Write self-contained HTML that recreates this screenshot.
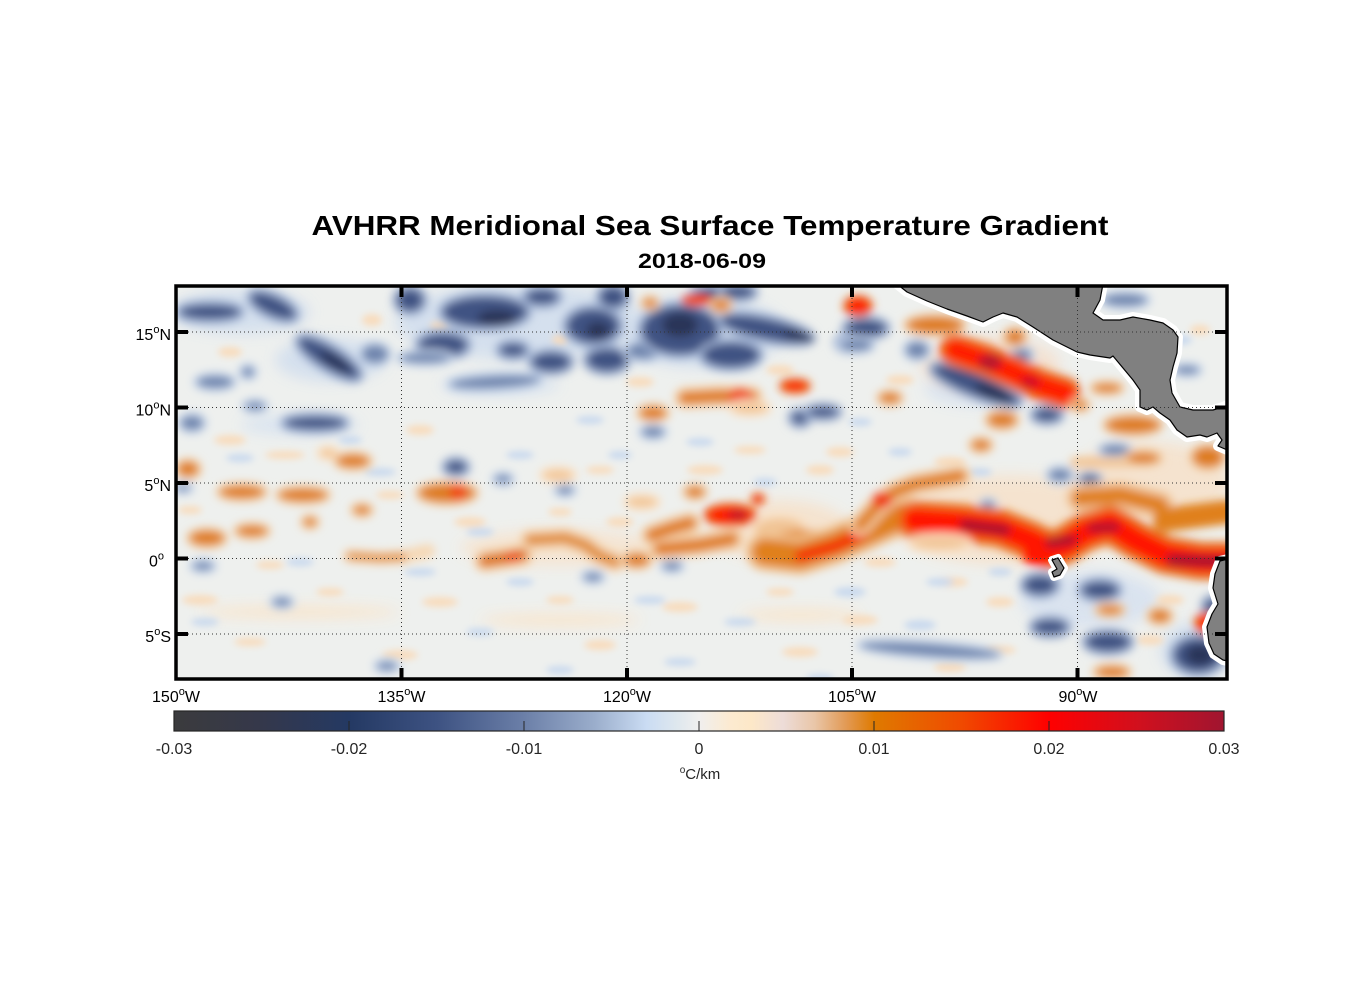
<!DOCTYPE html>
<html>
<head>
<meta charset="utf-8">
<style>
html,body{margin:0;padding:0;background:#fff;}
svg{display:block;}
.mb{fill:#7085ad;stroke:#c3d3ea;stroke-width:8;paint-order:stroke}
.db{fill:#3f5383;stroke:#9fb1d2;stroke-width:10;paint-order:stroke}
.xb{fill:#2a3658}
.lo{fill:#f1c596;stroke:#fae3c8;stroke-width:8;paint-order:stroke}
.mo{fill:#de7c1c;stroke:#f2c99c;stroke-width:8;paint-order:stroke}
.ro{fill:#f04a08}
.rd{fill:#ff1600;stroke:#e8681a;stroke-width:8;paint-order:stroke}
.p{fill:none;stroke-linecap:round;stroke-linejoin:round}
text{font-family:"Liberation Sans",Arial,sans-serif;}
</style>
</head>
<body>
<svg width="1356" height="1000" viewBox="0 0 1356 1000" xmlns="http://www.w3.org/2000/svg">
<defs>
<clipPath id="mc"><rect x="176" y="286" width="1051" height="393"/></clipPath>
<filter id="f1" x="-20%" y="-20%" width="140%" height="140%"><feGaussianBlur stdDeviation="4.5"/></filter>
<filter id="f2" x="-20%" y="-20%" width="140%" height="140%"><feGaussianBlur stdDeviation="7"/></filter>
<filter id="f3" x="-20%" y="-20%" width="140%" height="140%"><feGaussianBlur stdDeviation="3.5"/></filter>
<linearGradient id="cb" x1="0" y1="0" x2="1" y2="0">
<stop offset="0" stop-color="#3b3b3d"/>
<stop offset="0.08" stop-color="#35384a"/>
<stop offset="0.1667" stop-color="#243963"/>
<stop offset="0.25" stop-color="#3d5282"/>
<stop offset="0.333" stop-color="#6b7fa8"/>
<stop offset="0.40" stop-color="#9aadcb"/>
<stop offset="0.45" stop-color="#cadcf3"/>
<stop offset="0.48" stop-color="#dfe8ee"/>
<stop offset="0.5" stop-color="#f0efee"/>
<stop offset="0.53" stop-color="#fcead0"/>
<stop offset="0.55" stop-color="#fde8c8"/>
<stop offset="0.58" stop-color="#eddcd8"/>
<stop offset="0.61" stop-color="#e9c6a8"/>
<stop offset="0.64" stop-color="#e29a55"/>
<stop offset="0.667" stop-color="#df7a00"/>
<stop offset="0.75" stop-color="#f04a00"/>
<stop offset="0.833" stop-color="#ff0000"/>
<stop offset="0.92" stop-color="#d0101e"/>
<stop offset="1" stop-color="#a01530"/>
</linearGradient>
</defs>

<text x="710" y="235" font-size="28" font-weight="bold" text-anchor="middle" textLength="797" lengthAdjust="spacingAndGlyphs" fill="#000">AVHRR Meridional Sea Surface Temperature Gradient</text>
<text x="702" y="268" font-size="21" font-weight="bold" text-anchor="middle" textLength="128" lengthAdjust="spacingAndGlyphs" fill="#000">2018-06-09</text>

<g clip-path="url(#mc)">
<rect x="170" y="280" width="1065" height="405" fill="#eef0ee"/>

<g filter="url(#f2)" opacity="0.9">
<ellipse cx="240" cy="312" rx="70" ry="22" fill="#d3dfee"/>
<ellipse cx="330" cy="360" rx="55" ry="22" fill="#d3dfee"/>
<ellipse cx="520" cy="322" rx="125" ry="38" fill="#d3dfee"/>
<ellipse cx="700" cy="332" rx="85" ry="36" fill="#d3dfee"/>
<ellipse cx="300" cy="425" rx="60" ry="10" fill="#d8e3f0"/>
<ellipse cx="500" cy="385" rx="60" ry="10" fill="#d8e3f0"/>
<ellipse cx="980" cy="388" rx="55" ry="18" fill="#d6e1f0"/>
<ellipse cx="1090" cy="600" rx="70" ry="28" fill="#d8e2f0"/>
<ellipse cx="1195" cy="650" rx="35" ry="28" fill="#d3dfee"/>
<ellipse cx="300" cy="612" rx="100" ry="6" fill="#fae4c8"/>
<ellipse cx="560" cy="620" rx="80" ry="6" fill="#fae4c8"/>
<ellipse cx="800" cy="615" rx="60" ry="6" fill="#fae4c8"/>
<ellipse cx="1010" cy="520" rx="120" ry="45" fill="#f6e2cc"/>
<ellipse cx="1150" cy="482" rx="80" ry="40" fill="#f6e2cc"/>
<ellipse cx="990" cy="365" rx="70" ry="28" fill="#f4e0cf"/>
<ellipse cx="560" cy="548" rx="100" ry="18" fill="#f6e4d0"/>
<ellipse cx="780" cy="530" rx="70" ry="30" fill="#f6e2cc"/>
</g>

<g filter="url(#f3)">
<g fill="#f8dcbd">
<ellipse cx="230" cy="440" rx="16" ry="5"/>
<ellipse cx="285" cy="455" rx="20" ry="4"/>
<ellipse cx="420" cy="430" rx="14" ry="5"/>
<ellipse cx="470" cy="522" rx="16" ry="5"/>
<ellipse cx="600" cy="470" rx="14" ry="4"/>
<ellipse cx="705" cy="470" rx="18" ry="5"/>
<ellipse cx="820" cy="470" rx="14" ry="5"/>
<ellipse cx="560" cy="512" rx="12" ry="4"/>
<ellipse cx="620" cy="522" rx="14" ry="5"/>
<ellipse cx="750" cy="450" rx="16" ry="4"/>
<ellipse cx="880" cy="562" rx="16" ry="5"/>
<ellipse cx="950" cy="582" rx="18" ry="5"/>
<ellipse cx="200" cy="600" rx="18" ry="5"/>
<ellipse cx="330" cy="592" rx="14" ry="4"/>
<ellipse cx="440" cy="602" rx="18" ry="5"/>
<ellipse cx="560" cy="600" rx="14" ry="4"/>
<ellipse cx="680" cy="607" rx="18" ry="5"/>
<ellipse cx="780" cy="592" rx="14" ry="4"/>
<ellipse cx="860" cy="620" rx="18" ry="5"/>
<ellipse cx="250" cy="642" rx="16" ry="4"/>
<ellipse cx="400" cy="655" rx="18" ry="5"/>
<ellipse cx="600" cy="645" rx="16" ry="5"/>
<ellipse cx="800" cy="652" rx="18" ry="5"/>
<ellipse cx="950" cy="667" rx="16" ry="5"/>
<ellipse cx="1000" cy="602" rx="14" ry="5"/>
<ellipse cx="230" cy="352" rx="12" ry="5"/>
<ellipse cx="372" cy="320" rx="10" ry="6"/>
<ellipse cx="560" cy="340" rx="8" ry="5"/>
<ellipse cx="440" cy="326" rx="10" ry="5"/>
<ellipse cx="640" cy="382" rx="14" ry="5"/>
<ellipse cx="780" cy="370" rx="14" ry="5"/>
<ellipse cx="900" cy="380" rx="14" ry="5"/>
<ellipse cx="840" cy="452" rx="14" ry="5"/>
<ellipse cx="950" cy="462" rx="16" ry="5"/>
<ellipse cx="1170" cy="600" rx="14" ry="5"/>
<ellipse cx="1150" cy="640" rx="14" ry="5"/>
<ellipse cx="1000" cy="650" rx="16" ry="4"/>
<ellipse cx="190" cy="510" rx="12" ry="4"/>
<ellipse cx="390" cy="495" rx="14" ry="4"/>
<ellipse cx="270" cy="565" rx="14" ry="4"/>
<ellipse cx="1160" cy="400" rx="10" ry="5"/>
<ellipse cx="1200" cy="330" rx="10" ry="5"/>
</g>
<g fill="#c9d9ee">
<ellipse cx="240" cy="458" rx="14" ry="4"/>
<ellipse cx="380" cy="472" rx="16" ry="4"/>
<ellipse cx="520" cy="455" rx="14" ry="4"/>
<ellipse cx="620" cy="455" rx="12" ry="4"/>
<ellipse cx="700" cy="442" rx="14" ry="4"/>
<ellipse cx="765" cy="482" rx="12" ry="4"/>
<ellipse cx="480" cy="532" rx="14" ry="4"/>
<ellipse cx="420" cy="572" rx="16" ry="4"/>
<ellipse cx="520" cy="582" rx="14" ry="4"/>
<ellipse cx="650" cy="600" rx="16" ry="4"/>
<ellipse cx="740" cy="622" rx="16" ry="4"/>
<ellipse cx="850" cy="592" rx="16" ry="5"/>
<ellipse cx="920" cy="625" rx="16" ry="5"/>
<ellipse cx="300" cy="562" rx="14" ry="4"/>
<ellipse cx="205" cy="622" rx="14" ry="4"/>
<ellipse cx="480" cy="632" rx="14" ry="4"/>
<ellipse cx="680" cy="662" rx="16" ry="4"/>
<ellipse cx="560" cy="670" rx="14" ry="4"/>
<ellipse cx="820" cy="678" rx="14" ry="4"/>
<ellipse cx="980" cy="472" rx="12" ry="4"/>
<ellipse cx="900" cy="452" rx="12" ry="4"/>
<ellipse cx="860" cy="422" rx="12" ry="4"/>
<ellipse cx="940" cy="582" rx="14" ry="4"/>
<ellipse cx="1000" cy="572" rx="12" ry="4"/>
<ellipse cx="350" cy="440" rx="12" ry="4"/>
<ellipse cx="590" cy="420" rx="14" ry="4"/>
<ellipse cx="1180" cy="340" rx="12" ry="5"/>
</g>
</g>

<g filter="url(#f1)">
<ellipse class="db" cx="210" cy="312" rx="30" ry="7"/>
<ellipse class="db" cx="273" cy="306" rx="24" ry="9" transform="rotate(25 273 306)"/>
<ellipse class="db" cx="329" cy="358" rx="35" ry="10" transform="rotate(32 329 358)"/>
<ellipse class="xb" cx="335" cy="362" rx="18" ry="5" transform="rotate(32 335 362)"/>
<ellipse class="mb" cx="375" cy="354" rx="13" ry="9"/>
<ellipse class="mb" cx="215" cy="382" rx="18" ry="6"/>
<ellipse class="mb" cx="248" cy="372" rx="6" ry="5"/>
<ellipse class="mb" cx="192" cy="423" rx="11" ry="7"/>
<ellipse class="mb" cx="255" cy="406" rx="10" ry="4"/>
<ellipse class="db" cx="315" cy="423" rx="30" ry="6"/>

<ellipse class="db" cx="410" cy="300" rx="13" ry="11"/>
<ellipse class="db" cx="485" cy="312" rx="42" ry="15"/>
<ellipse class="xb" cx="497" cy="318" rx="20" ry="8"/>
<ellipse class="db" cx="542" cy="297" rx="16" ry="7"/>
<ellipse class="db" cx="593" cy="326" rx="26" ry="17"/>
<ellipse class="xb" cx="598" cy="330" rx="12" ry="8"/>
<ellipse class="db" cx="613" cy="297" rx="13" ry="10"/>
<ellipse class="db" cx="443" cy="345" rx="24" ry="11"/>
<ellipse class="mb" cx="425" cy="358" rx="25" ry="5"/>
<ellipse class="db" cx="513" cy="350" rx="13" ry="6"/>
<ellipse class="db" cx="551" cy="362" rx="19" ry="9"/>
<ellipse class="mb" cx="495" cy="382" rx="45" ry="6" transform="rotate(-3 495 382)"/>
<ellipse class="db" cx="607" cy="360" rx="20" ry="11"/>
<ellipse class="mb" cx="643" cy="351" rx="16" ry="8"/>
<ellipse class="db" cx="680" cy="330" rx="38" ry="24"/>
<ellipse class="xb" cx="680" cy="325" rx="18" ry="12"/>
<ellipse class="db" cx="713" cy="294" rx="20" ry="6"/>
<ellipse class="db" cx="738" cy="292" rx="16" ry="6"/>
<ellipse class="db" cx="766" cy="329" rx="46" ry="10" transform="rotate(12 766 329)"/>
<ellipse class="xb" cx="798" cy="336" rx="16" ry="5" transform="rotate(12 798 336)"/>
<ellipse class="db" cx="731" cy="355" rx="28" ry="12"/>
<ellipse class="db" cx="850" cy="343" rx="12" ry="7"/>
<ellipse class="db" cx="456" cy="467" rx="10" ry="6"/>
<ellipse class="db" cx="800" cy="418" rx="8" ry="6"/>
<ellipse class="db" cx="823" cy="412" rx="15" ry="5"/>
<ellipse class="mb" cx="653" cy="432" rx="11" ry="5"/>
<ellipse class="mb" cx="503" cy="479" rx="8" ry="4"/>
<ellipse class="mb" cx="565" cy="490" rx="8" ry="4"/>
<ellipse class="mb" cx="672" cy="566" rx="9" ry="4"/>
<ellipse class="mb" cx="593" cy="577" rx="9" ry="4"/>
<ellipse class="mb" cx="203" cy="566" rx="10" ry="4"/>
<ellipse class="mb" cx="282" cy="602" rx="9" ry="4"/>
<ellipse class="mb" cx="387" cy="666" rx="10" ry="4"/>
<ellipse class="mb" cx="183" cy="488" rx="7" ry="3"/>

<ellipse class="db" cx="866" cy="328" rx="20" ry="8"/>
<ellipse class="mb" cx="856" cy="345" rx="16" ry="6"/>
<ellipse class="mb" cx="917" cy="350" rx="11" ry="8"/>
<ellipse class="db" cx="976" cy="385" rx="46" ry="10" transform="rotate(22 976 385)"/>
<ellipse class="xb" cx="993" cy="393" rx="20" ry="6" transform="rotate(22 993 393)"/>
<ellipse class="mb" cx="1022" cy="355" rx="9" ry="6"/>
<ellipse class="db" cx="1047" cy="415" rx="13" ry="6"/>
<ellipse class="mb" cx="1125" cy="300" rx="22" ry="6"/>
<ellipse class="mb" cx="1187" cy="370" rx="12" ry="4"/>
<ellipse class="mb" cx="1060" cy="475" rx="11" ry="6"/>
<ellipse class="db" cx="1090" cy="480" rx="8" ry="4"/>
<ellipse class="mb" cx="1115" cy="450" rx="14" ry="5"/>
<ellipse class="mb" cx="988" cy="505" rx="6" ry="4"/>

<ellipse class="db" cx="1040" cy="585" rx="16" ry="9"/>
<ellipse class="db" cx="1100" cy="590" rx="18" ry="8"/>
<ellipse class="db" cx="1050" cy="627" rx="17" ry="7"/>
<ellipse class="db" cx="1108" cy="642" rx="22" ry="9"/>
<ellipse class="db" cx="1198" cy="655" rx="24" ry="17"/>
<ellipse class="xb" cx="1200" cy="655" rx="14" ry="10"/>
<ellipse class="db" cx="1212" cy="606" rx="7" ry="7"/>
<ellipse class="mb" cx="930" cy="650" rx="70" ry="6" transform="rotate(4 930 650)"/>

<ellipse class="mo" cx="188" cy="469" rx="10" ry="7"/>
<ellipse class="mo" cx="242" cy="492" rx="22" ry="6"/>
<ellipse class="mo" cx="303" cy="495" rx="24" ry="6"/>
<ellipse class="lo" cx="328" cy="453" rx="8" ry="4"/>
<ellipse class="mo" cx="353" cy="461" rx="16" ry="6"/>
<ellipse class="mo" cx="362" cy="510" rx="8" ry="4"/>
<ellipse class="mo" cx="207" cy="538" rx="17" ry="7"/>
<ellipse class="mo" cx="252" cy="531" rx="15" ry="5"/>
<ellipse class="mo" cx="310" cy="522" rx="6" ry="4"/>
<path class="p" d="M350,556 L380,558 L403,557 L428,551" stroke="#f6d8b5" stroke-width="14"/>
<path class="p" d="M350,556 L380,558 L403,557" stroke="#df8a2e" stroke-width="7"/>
<ellipse class="mo" cx="447" cy="493" rx="28" ry="9"/>
<ellipse class="ro" cx="458" cy="492" rx="9" ry="8"/>
<ellipse class="lo" cx="558" cy="475" rx="15" ry="5"/>
<path class="p" d="M485,561 L505,558 L522,555" stroke="#f4cfa5" stroke-width="22"/>
<path class="p" d="M485,561 L505,558 L522,555" stroke="#dd7415" stroke-width="12"/>
<ellipse cx="513" cy="557" rx="8" ry="4" fill="#f04000"/>
<path class="p" d="M530,540 L565,538 L585,545 L600,556 L615,562" stroke="#f4d3ae" stroke-width="20"/>
<path class="p" d="M530,540 L565,538 L585,545 L600,556 L615,562" stroke="#e08a30" stroke-width="10"/>
<ellipse class="mo" cx="637" cy="560" rx="12" ry="6"/>
<ellipse class="lo" cx="642" cy="502" rx="15" ry="5"/>
<ellipse class="mo" cx="695" cy="492" rx="9" ry="5"/>
<ellipse class="rd" cx="730" cy="515" rx="23" ry="8"/>
<ellipse cx="738" cy="515" rx="10" ry="4" fill="#b3142e"/>
<ellipse class="ro" cx="758" cy="499" rx="7" ry="6"/>
<path class="p" d="M652,535 L672,528 L690,523" stroke="#f4cfa5" stroke-width="22"/>
<path class="p" d="M660,549 L700,545 L732,539" stroke="#f4cfa5" stroke-width="22"/>
<path class="p" d="M652,535 L672,528 L690,523" stroke="#df7a18" stroke-width="12"/>
<path class="p" d="M660,549 L700,545 L732,539" stroke="#df7a18" stroke-width="12"/>
<ellipse class="lo" cx="780" cy="530" rx="25" ry="12"/>
<ellipse cx="805" cy="545" rx="40" ry="15" fill="#e38a32"/>

<path class="p" d="M765,552 L800,556 L835,545 L865,532 L900,516 L915,519" stroke="#f0c18e" stroke-width="38"/>
<path class="p" d="M765,552 L800,556 L835,545 L865,532 L900,516 L915,519" stroke="#e0801e" stroke-width="26"/>
<path class="p" d="M800,556 L835,546 L862,534" stroke="#f52a00" stroke-width="11"/>
<path class="p" d="M860,525 L878,505 L895,492 L915,484 L960,476" stroke="#f4cfa5" stroke-width="22"/>
<path class="p" d="M860,525 L878,505 L895,492 L915,484 L960,476" stroke="#e0801e" stroke-width="12"/>
<ellipse cx="882" cy="500" rx="10" ry="8" fill="#f03a0a"/>

<path class="p" d="M1080,498 L1120,495 L1160,505" stroke="#f2c89c" stroke-width="28"/>
<path class="p" d="M1080,498 L1120,495 L1160,505" stroke="#e0801e" stroke-width="16"/>
<path class="p" d="M1165,520 L1226,512" stroke="#e0801e" stroke-width="24"/>
<path class="p" d="M915,520 L960,523 L1000,528 L1030,540 L1050,550 L1065,545 L1085,532 L1110,524 L1135,540 L1165,555 L1200,561 L1235,561" stroke="#e8701a" stroke-width="38"/>
<path class="p" d="M915,520 L960,523 L1000,528 L1030,540 L1050,550 L1065,545 L1085,532 L1110,524 L1135,540 L1165,555 L1200,561 L1235,561" stroke="#ff1800" stroke-width="24"/>
<ellipse cx="1040" cy="556" rx="18" ry="10" fill="#ff1800"/>
<path class="p" d="M965,525 L1005,530" stroke="#a8122e" stroke-width="11"/>
<path class="p" d="M1050,543 L1072,540" stroke="#a8122e" stroke-width="10"/>
<path class="p" d="M1092,528 L1115,527" stroke="#b3142e" stroke-width="10"/>
<path class="p" d="M1172,560 L1230,562" stroke="#a8122e" stroke-width="12"/>
<ellipse class="lo" cx="940" cy="543" rx="28" ry="6"/>

<ellipse class="mo" cx="1002" cy="420" rx="14" ry="7"/>
<ellipse class="mo" cx="1133" cy="425" rx="27" ry="8"/>
<ellipse class="mo" cx="981" cy="445" rx="9" ry="5"/>
<path class="p" d="M1075,462 L1140,462" stroke="#f1c596" stroke-width="10"/>
<ellipse class="mo" cx="1143" cy="458" rx="16" ry="5"/>
<ellipse class="mo" cx="1208" cy="457" rx="15" ry="10"/>
<ellipse class="rd" cx="858" cy="306" rx="11" ry="7"/>
<ellipse class="mo" cx="935" cy="325" rx="28" ry="8"/>
<ellipse class="mo" cx="1015" cy="337" rx="9" ry="7"/>
<path class="p" d="M955,350 L985,360 L1015,373 L1040,385 L1065,393" stroke="#ea6a1e" stroke-width="32"/>
<path class="p" d="M955,350 L985,360 L1015,373 L1040,385 L1065,393" stroke="#ff1a00" stroke-width="20"/>
<ellipse cx="990" cy="362" rx="12" ry="8" fill="#b8142e"/>
<ellipse cx="1030" cy="382" rx="10" ry="6" fill="#d01026"/>
<ellipse class="mo" cx="890" cy="398" rx="10" ry="5"/>
<ellipse class="mo" cx="1080" cy="405" rx="7" ry="4"/>
<ellipse class="mo" cx="1107" cy="388" rx="14" ry="4"/>
<ellipse class="ro" cx="697" cy="300" rx="16" ry="6"/>
<ellipse class="mo" cx="721" cy="305" rx="8" ry="5"/>
<ellipse class="mo" cx="650" cy="303" rx="6" ry="4"/>
<path class="p" d="M685,398 L720,396 L752,397" stroke="#f4cfa5" stroke-width="22"/>
<path class="p" d="M685,398 L720,396 L752,397" stroke="#df7a18" stroke-width="12"/>
<ellipse cx="740" cy="396" rx="12" ry="8" fill="#f04a08"/>
<ellipse class="rd" cx="795" cy="386" rx="12" ry="4"/>
<ellipse class="mo" cx="653" cy="413" rx="13" ry="6"/>
<ellipse class="lo" cx="750" cy="408" rx="18" ry="5"/>
<ellipse class="mo" cx="1110" cy="610" rx="12" ry="4"/>
<ellipse class="mo" cx="1160" cy="616" rx="10" ry="6"/>
<ellipse class="rd" cx="1205" cy="623" rx="7" ry="7"/>
<ellipse class="mo" cx="1112" cy="672" rx="16" ry="5"/>
</g>

<g stroke-linejoin="round">
<path d="M897,284 L907,292 L927,301 L947,309 L967,316 L983,322 L993,317 L1003,313 L1017,317 L1033,327 L1053,340 L1077,352 L1090,355 L1110,358 L1113,356 L1118,362 L1133,380 L1140,390 L1140,407 L1147,410 L1153,407 L1160,413 L1170,420 L1177,430 L1187,437 L1200,435 L1207,437 L1217,433 L1222,440 L1218,446 L1232,452 L1232,403 L1223,407 L1213,410 L1193,410 L1180,407 L1172,393 L1170,380 L1173,367 L1177,353 L1178,337 L1173,330 L1163,323 L1150,320 L1133,317 L1120,320 L1103,320 L1093,313 L1100,300 L1103,284 Z" fill="#fff" stroke="#fff" stroke-width="10"/>
<path d="M1052,560 L1058,558 L1064,568 L1060,575 L1054,577 L1052,572 L1057,569 Z" fill="#fff" stroke="#fff" stroke-width="8"/>
<path d="M1232,558 L1220,561 L1215,574 L1213,588 L1218,604 L1212,614 L1207,627 L1209,643 L1214,654 L1223,660 L1232,662 Z" fill="#fff" stroke="#fff" stroke-width="10"/>
<path d="M897,284 L907,292 L927,301 L947,309 L967,316 L983,322 L993,317 L1003,313 L1017,317 L1033,327 L1053,340 L1077,352 L1090,355 L1110,358 L1113,356 L1118,362 L1133,380 L1140,390 L1140,407 L1147,410 L1153,407 L1160,413 L1170,420 L1177,430 L1187,437 L1200,435 L1207,437 L1217,433 L1222,440 L1218,446 L1232,452 L1232,403 L1223,407 L1213,410 L1193,410 L1180,407 L1172,393 L1170,380 L1173,367 L1177,353 L1178,337 L1173,330 L1163,323 L1150,320 L1133,317 L1120,320 L1103,320 L1093,313 L1100,300 L1103,284 Z" fill="#808080" stroke="#000" stroke-width="1.2"/>
<path d="M1052,560 L1058,558 L1064,568 L1060,575 L1054,577 L1052,572 L1057,569 Z" fill="#808080" stroke="#000" stroke-width="1.2"/>
<path d="M1232,558 L1220,561 L1215,574 L1213,588 L1218,604 L1212,614 L1207,627 L1209,643 L1214,654 L1223,660 L1232,662 Z" fill="#808080" stroke="#000" stroke-width="1.2"/>
</g>
</g>

<g stroke="#333" stroke-width="1" stroke-dasharray="1 3" fill="none">
<line x1="176" y1="332" x2="1227" y2="332"/>
<line x1="176" y1="407.5" x2="1227" y2="407.5"/>
<line x1="176" y1="483" x2="1227" y2="483"/>
<line x1="176" y1="558.5" x2="1227" y2="558.5"/>
<line x1="176" y1="634" x2="1227" y2="634"/>
<line x1="401.5" y1="286" x2="401.5" y2="679"/>
<line x1="627" y1="286" x2="627" y2="679"/>
<line x1="852" y1="286" x2="852" y2="679"/>
<line x1="1077.5" y1="286" x2="1077.5" y2="679"/>
</g>

<rect x="176" y="286" width="1051" height="393" fill="none" stroke="#000" stroke-width="3.5"/>
<g stroke="#000" stroke-width="4">
<line x1="176" y1="332" x2="188" y2="332"/>
<line x1="176" y1="407.5" x2="188" y2="407.5"/>
<line x1="176" y1="483" x2="188" y2="483"/>
<line x1="176" y1="558.5" x2="188" y2="558.5"/>
<line x1="176" y1="634" x2="188" y2="634"/>
<line x1="1215" y1="332" x2="1227" y2="332"/>
<line x1="1215" y1="407.5" x2="1227" y2="407.5"/>
<line x1="1215" y1="483" x2="1227" y2="483"/>
<line x1="1215" y1="558.5" x2="1227" y2="558.5"/>
<line x1="1215" y1="634" x2="1227" y2="634"/>
<line x1="401.5" y1="286" x2="401.5" y2="297"/>
<line x1="627" y1="286" x2="627" y2="297"/>
<line x1="852" y1="286" x2="852" y2="297"/>
<line x1="1077.5" y1="286" x2="1077.5" y2="297"/>
<line x1="401.5" y1="668" x2="401.5" y2="679"/>
<line x1="627" y1="668" x2="627" y2="679"/>
<line x1="852" y1="668" x2="852" y2="679"/>
<line x1="1077.5" y1="668" x2="1077.5" y2="679"/>
</g>

<g font-size="16" fill="#000" text-anchor="end">
<text x="171" y="340">15<tspan font-size="11" dy="-7">o</tspan><tspan dy="7">N</tspan></text>
<text x="171" y="415.5">10<tspan font-size="11" dy="-7">o</tspan><tspan dy="7">N</tspan></text>
<text x="171" y="491">5<tspan font-size="11" dy="-7">o</tspan><tspan dy="7">N</tspan></text>
<text x="164" y="566.5">0<tspan font-size="11" dy="-7">o</tspan></text>
<text x="171" y="642">5<tspan font-size="11" dy="-7">o</tspan><tspan dy="7">S</tspan></text>
</g>
<g font-size="16" fill="#000" text-anchor="middle">
<text x="176" y="702">150<tspan font-size="11" dy="-7">o</tspan><tspan dy="7">W</tspan></text>
<text x="401.5" y="702">135<tspan font-size="11" dy="-7">o</tspan><tspan dy="7">W</tspan></text>
<text x="627" y="702">120<tspan font-size="11" dy="-7">o</tspan><tspan dy="7">W</tspan></text>
<text x="852" y="702">105<tspan font-size="11" dy="-7">o</tspan><tspan dy="7">W</tspan></text>
<text x="1078" y="702">90<tspan font-size="11" dy="-7">o</tspan><tspan dy="7">W</tspan></text>
</g>

<rect x="174" y="711" width="1050" height="20" fill="url(#cb)" stroke="#262626" stroke-width="1.2"/>
<g stroke="#262626" stroke-width="1">
<line x1="349" y1="721" x2="349" y2="731"/>
<line x1="524" y1="721" x2="524" y2="731"/>
<line x1="699" y1="721" x2="699" y2="731"/>
<line x1="874" y1="721" x2="874" y2="731"/>
<line x1="1049" y1="721" x2="1049" y2="731"/>
</g>
<g font-size="16" fill="#262626" text-anchor="middle">
<text x="174" y="754">-0.03</text>
<text x="349" y="754">-0.02</text>
<text x="524" y="754">-0.01</text>
<text x="699" y="754">0</text>
<text x="874" y="754">0.01</text>
<text x="1049" y="754">0.02</text>
<text x="1224" y="754">0.03</text>
</g>
<text x="700" y="779" font-size="15" fill="#262626" text-anchor="middle"><tspan font-size="10" dy="-6">o</tspan><tspan dy="6">C/km</tspan></text>
</svg>
</body>
</html>
